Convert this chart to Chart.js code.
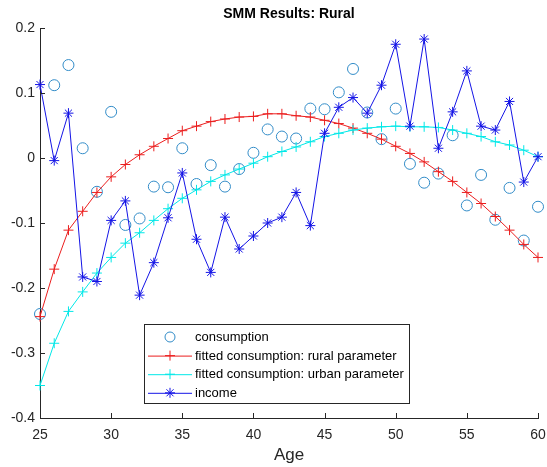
<!DOCTYPE html>
<html>
<head>
<meta charset="utf-8">
<script src="https://cdn.jsdelivr.net/npm/chart.js@4/dist/chart.umd.min.js"></script>
<style>
  body { margin: 0; background: #fff; }
  #wrap { width: 547px; height: 467px; }
</style>
</head>
<body>
<div id="wrap"><canvas id="c" width="547" height="467"></canvas></div>
<script>
// data
const ages = [25, 26, 27, 28, 29, 30, 31, 32, 33, 34, 35, 36, 37, 38, 39, 40, 41, 42,
  43, 44, 45, 46, 47, 48, 49, 50, 51, 52, 53, 54, 55, 56, 57, 58, 59, 60];

const consumption = [-0.240, 0.112, 0.143, 0.015, -0.052, 0.071, -0.103, -0.093, -0.044, -0.045,
  0.015, -0.040, -0.011, -0.044, -0.017, 0.008, 0.044, 0.033, 0.030, 0.076, 0.075, 0.101,
  0.137, 0.070, 0.029, 0.076, -0.009, -0.038, -0.024, 0.035, -0.073, -0.026, -0.095, -0.046,
  -0.127, -0.075];

const fittedRural = [-0.244, -0.171, -0.111, -0.082, -0.053, -0.029, -0.010, 0.005, 0.018, 0.030,
  0.042, 0.049, 0.056, 0.060, 0.063, 0.064, 0.068, 0.068, 0.065, 0.063, 0.058, 0.053,
  0.046, 0.038, 0.029, 0.018, 0.007, -0.006, -0.021, -0.036, -0.053, -0.070, -0.090, -0.111,
  -0.133, -0.153];

const fittedUrban = [-0.350, -0.285, -0.236, -0.206, -0.177, -0.153, -0.131, -0.115, -0.096, -0.078,
  -0.062, -0.049, -0.036, -0.026, -0.017, -0.008, 0.002, 0.010, 0.017, 0.025, 0.033, 0.038,
  0.043, 0.046, 0.048, 0.049, 0.048, 0.048, 0.047, 0.043, 0.038, 0.033, 0.025, 0.020,
  0.012, 0.002];

const income = [0.113, -0.004, 0.069, -0.183, -0.190, -0.096, -0.066, -0.211, -0.161, -0.092,
  -0.023, -0.125, -0.176, -0.091, -0.140, -0.120, -0.100, -0.091, -0.053, -0.104, 0.038, 0.078,
  0.093, 0.069, 0.112, 0.175, 0.049, 0.183, 0.015, 0.071, 0.134, 0.049, 0.043, 0.087,
  -0.037, 0.002];

const xTicks = [25, 30, 35, 40, 45, 50, 55, 60];
const yTicks = [-0.4, -0.3, -0.2, -0.1, 0, 0.1, 0.2];
const yTickLabels = ['-0.4', '-0.3', '-0.2', '-0.1', '0', '0.1', '0.2'];

const seriesNames = ['consumption', 'fitted consumption: rural parameter',
  'fitted consumption: urban parameter', 'income'];

const AXIS = '#262626';
const C_CONS = 'rgb(50,140,200)';
const C_RURAL = 'rgb(235,30,30)';
const C_URBAN = 'rgb(0,232,232)';
const C_INC = 'rgb(20,20,230)';

Chart.defaults.font.family = '"Liberation Sans", Arial, sans-serif';
Chart.defaults.color = AXIS;

const pts = arr => ages.map((a, i) => ({ x: a, y: arr[i] }));

// MATLAB style ticks pointing into the axes
const inwardTicks = {
  id: 'inwardTicks',
  afterDraw(chart) {
    const { ctx, chartArea: a, scales: { x, y } } = chart;
    ctx.save();
    ctx.strokeStyle = AXIS;
    ctx.lineWidth = 1;
    ctx.beginPath();
    xTicks.forEach(v => {
      const px = Math.round(x.getPixelForValue(v)) + 0.5;
      ctx.moveTo(px, a.bottom);
      ctx.lineTo(px, a.bottom - 5);
    });
    yTicks.forEach(v => {
      const py = Math.round(y.getPixelForValue(v)) + 0.5;
      ctx.moveTo(a.left, py);
      ctx.lineTo(a.left + 5, py);
    });
    ctx.stroke();
    ctx.restore();
  }
};

function marker(ctx, style, x, y, r, color) {
  ctx.strokeStyle = color;
  ctx.lineWidth = 1;
  ctx.beginPath();
  if (style === 'circle') {
    ctx.arc(x, y, r, 0, Math.PI * 2);
  } else {
    ctx.moveTo(x - r, y); ctx.lineTo(x + r, y);
    ctx.moveTo(x, y - r); ctx.lineTo(x, y + r);
    if (style === 'star') {
      const d = r * Math.SQRT1_2;
      ctx.moveTo(x - d, y - d); ctx.lineTo(x + d, y + d);
      ctx.moveTo(x - d, y + d); ctx.lineTo(x + d, y - d);
    }
  }
  ctx.stroke();
}

// legend box inside the axes, like the MATLAB one
const boxLegend = {
  id: 'boxLegend',
  afterDraw(chart) {
    const { ctx } = chart;
    const bx = 144.5, by = 324.5, bw = 265, bh = 79;
    ctx.save();
    ctx.fillStyle = '#fff';
    ctx.fillRect(bx, by, bw, bh);
    ctx.strokeStyle = AXIS;
    ctx.lineWidth = 1;
    ctx.strokeRect(bx, by, bw, bh);
    const styles = [
      { line: false, mark: 'circle', r: 5, color: C_CONS },
      { line: true, mark: 'cross', r: 5, color: C_RURAL },
      { line: true, mark: 'cross', r: 5, color: C_URBAN },
      { line: true, mark: 'star', r: 5, color: C_INC }
    ];
    ctx.font = '13px "Liberation Sans", Arial, sans-serif';
    ctx.textBaseline = 'middle';
    ctx.textAlign = 'left';
    seriesNames.forEach((name, i) => {
      const cy = 337 + i * 18.6;
      const s = styles[i];
      if (s.line) {
        ctx.strokeStyle = s.color;
        ctx.beginPath();
        ctx.moveTo(148, cy + 0.5);
        ctx.lineTo(192, cy + 0.5);
        ctx.stroke();
      }
      marker(ctx, s.mark, 170, cy, s.r, s.color);
      ctx.fillStyle = '#000';
      ctx.fillText(name, 195, cy + 0.5);
    });
    ctx.restore();
  }
};

new Chart(document.getElementById('c'), {
  type: 'line',
  data: {
    datasets: [
      {
        label: seriesNames[0], data: pts(consumption), showLine: false,
        pointStyle: 'circle', pointRadius: 5.5, pointBorderWidth: 1,
        borderColor: C_CONS, pointBorderColor: C_CONS, pointBackgroundColor: 'rgba(0,0,0,0)',
        clip: false, order: 4
      },
      {
        label: seriesNames[1], data: pts(fittedRural), borderWidth: 1, tension: 0,
        pointStyle: 'cross', pointRadius: 5, pointBorderWidth: 1,
        borderColor: C_RURAL, pointBorderColor: C_RURAL, clip: false, order: 3
      },
      {
        label: seriesNames[2], data: pts(fittedUrban), borderWidth: 1, tension: 0,
        pointStyle: 'cross', pointRadius: 5, pointBorderWidth: 1,
        borderColor: C_URBAN, pointBorderColor: C_URBAN, clip: false, order: 2
      },
      {
        label: seriesNames[3], data: pts(income), borderWidth: 1, tension: 0,
        pointStyle: 'star', pointRadius: 5, pointBorderWidth: 1,
        borderColor: C_INC, pointBorderColor: C_INC, clip: false, order: 1
      }
    ]
  },
  options: {
    responsive: false,
    animation: false,
    devicePixelRatio: 1,
    layout: { padding: { left: 0, right: 9, top: 0, bottom: 0 } },
    plugins: {
      legend: { display: false },
      tooltip: { enabled: false },
      title: {
        display: true,
        fullSize: false,
        text: 'SMM Results: Rural',
        color: '#000',
        font: { size: 14, weight: 'bold' },
        padding: { top: 6, bottom: 5.2 }
      }
    },
    scales: {
      x: {
        type: 'linear', min: 25, max: 60,
        afterBuildTicks: s => { s.ticks = xTicks.map(v => ({ value: v })); },
        afterFit: s => { s.height = 49; s.paddingLeft = 0; s.paddingRight = 9; },
        grid: { display: true, drawOnChartArea: false, drawTicks: false },
        border: { display: true, color: AXIS, width: 1 },
        ticks: { font: { size: 14 }, color: AXIS, padding: 9, maxRotation: 0 },
        title: { display: true, text: 'Age', color: AXIS, font: { size: 17 }, padding: { top: 0, bottom: 1 } }
      },
      y: {
        type: 'linear', min: -0.4, max: 0.2,
        afterBuildTicks: s => { s.ticks = yTicks.map(v => ({ value: v })); },
        afterFit: s => { s.width = 40; s.paddingTop = 0; s.paddingBottom = 0; },
        grid: { display: true, drawOnChartArea: false, drawTicks: false },
        border: { display: true, color: AXIS, width: 1 },
        ticks: {
          font: { size: 14 }, color: AXIS, padding: 5,
          callback: v => yTickLabels[yTicks.findIndex(t => Math.abs(t - v) < 1e-9)]
        }
      }
    }
  },
  plugins: [inwardTicks, boxLegend]
});
</script>
</body>
</html>
